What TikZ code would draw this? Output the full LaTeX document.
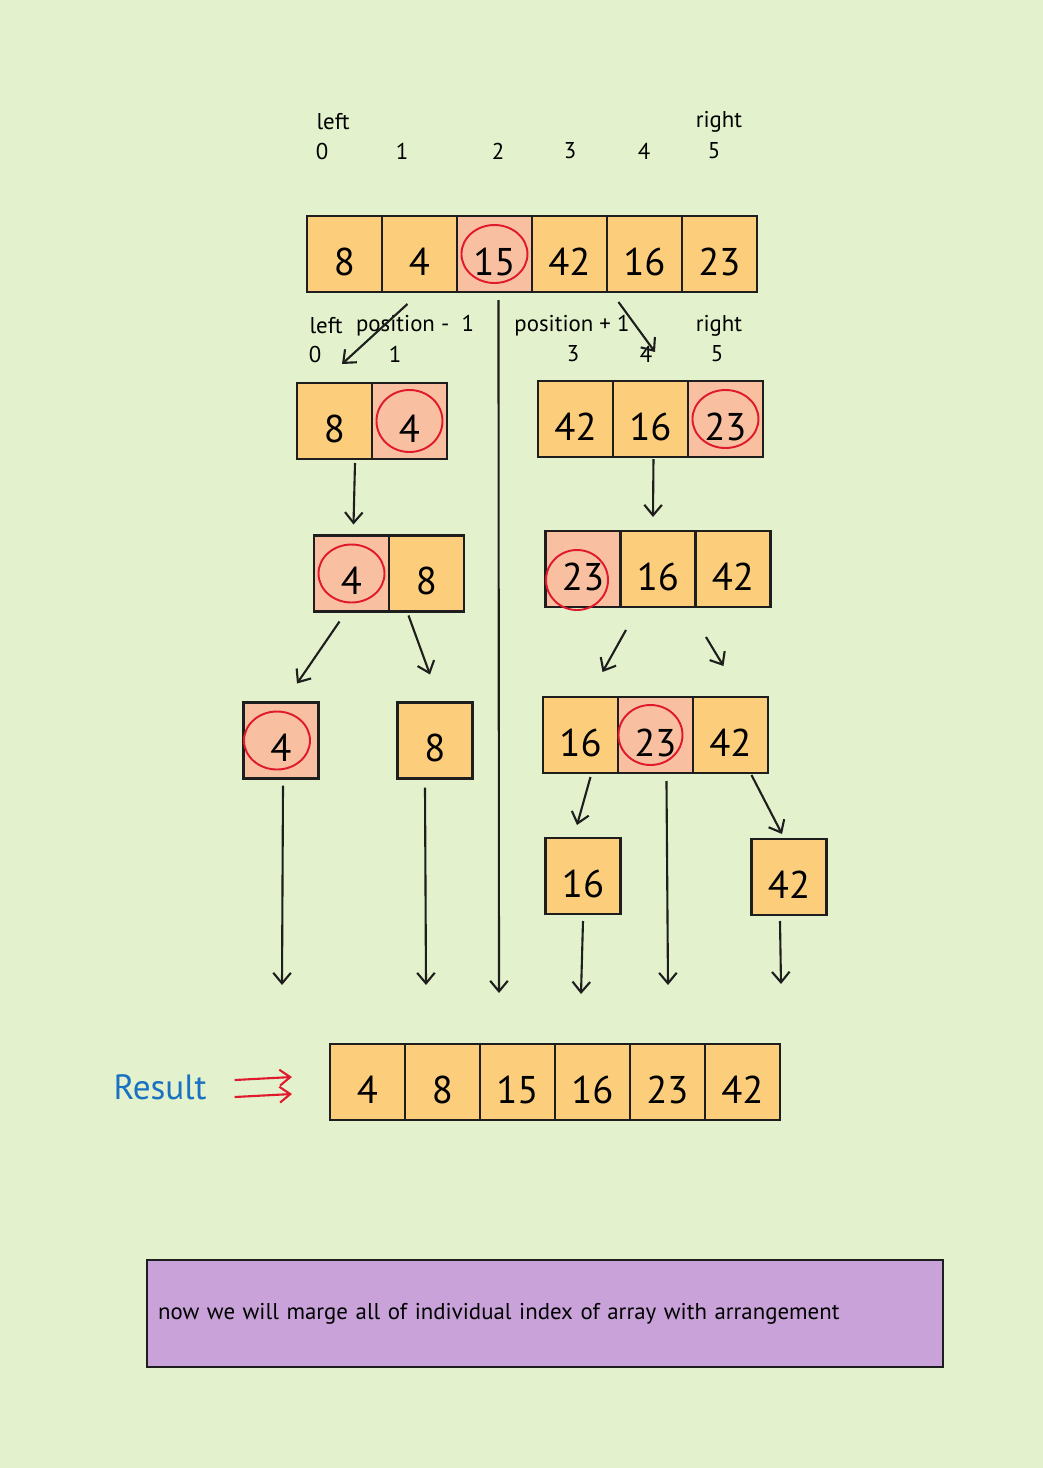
\documentclass[tikz,border=0pt]{standalone}
\usepackage{fontspec}
\setmainfont{PT Sans}
\usepackage{xcolor}
\usetikzlibrary{arrows.meta, positioning, calc}

\definecolor{bggreen}{HTML}{E3F2CC}
\definecolor{cellorange}{HTML}{FCCD7A}
\definecolor{cellpink}{HTML}{F8C0A0}
\definecolor{ringred}{HTML}{E0192D}
\definecolor{notepurple}{HTML}{C8A2D8}
\definecolor{resblue}{HTML}{1971C2}
\definecolor{ink}{HTML}{1E1E1E}

\begin{document}
\begin{tikzpicture}[
    x=0.02cm, y=-0.02cm,
    cell/.style={draw=ink, line width=1.4pt, fill=cellorange, minimum width=1.5cm, minimum height=1.52cm,
                 inner sep=0pt, outer sep=0pt, text height=0.85cm, text depth=0pt, font=\fontsize{22}{26}\selectfont},
    pivot/.style={cell, fill=cellpink},
    ring/.style={draw=ringred, line width=1.1pt},
    lbl/.style={font=\fontsize{13}{15}\selectfont, inner sep=1pt},
    arr/.style={draw=ink, line width=1.2pt, -{Straight Barb[length=6pt, width=10pt]}},
    dblarr/.style={draw=ringred, line width=1.2pt, -{Straight Barb[length=6pt, width=9pt]}},
]
    % background and page size
    \fill[bggreen] (0,0) rectangle (1043,1468);

    % first array
    \node[lbl] (lft0) at (333,122) {left};
    \node[lbl] (rgt0) at (719,122) {right};
    \node[lbl] (i0) at (322,151) {0};
    \node[lbl] (i1) at (402,151) {1};
    \node[lbl] (i2) at (498,151) {2};
    \node[lbl] (i3) at (570,151) {3};
    \node[lbl] (i4) at (644,151) {4};
    \node[lbl] (i5) at (714,151) {5};

    \node[cell] (a1) at (344.5,254) {8};
    \node[cell, right=0pt of a1] (a2) {4};
    \node[pivot, right=0pt of a2] (a3) {15};
    \node[cell, right=0pt of a3] (a4) {42};
    \node[cell, right=0pt of a4] (a5) {16};
    \node[cell, right=0pt of a5] (a6) {23};
    \draw[ring] (a3.center) ellipse (33 and 29);

    % left part
    \node[lbl] (lft1) at (326,326) {left};
    \node[lbl] (pm1) at (415,326) {position -\ \ 1};
    \node[lbl] (j0) at (315,354) {0};
    \node[lbl] (j1) at (395,354) {1};

    \node[cell] (b1) at (334.5,421) {8};
    \node[pivot, right=0pt of b1] (b2) {4};
    \draw[ring] (b2.center) ellipse (33 and 31);

    % right part
    \node[lbl] (pp1) at (572,326) {position + 1};
    \node[lbl] (rgt1) at (719,326) {right};
    \node[lbl] (j3) at (573,354) {3};
    \node[lbl] (j4) at (646,354) {4};
    \node[lbl] (j5) at (717,354) {5};

    \node[cell] (c1) at (575.5,419) {42};
    \node[cell, right=0pt of c1] (c2) {16};
    \node[pivot, right=0pt of c2] (c3) {23};
    \draw[ring] (c3.center) ellipse (33 and 29);

    % third row
    \node[pivot] (d1) at (351.5,573.5) {4};
    \node[cell, right=0pt of d1] (d2) {8};
    \draw[ring] (d1.center) ellipse (33 and 29);

    \node[pivot] (e1) at (583,569) {23};
    \node[cell, right=0pt of e1] (e2) {16};
    \node[cell, right=0pt of e2] (e3) {42};
    \draw[ring] ($(e1.center)+(-6,11)$) ellipse (31 and 30);

    % fourth row
    \node[pivot] (f1) at (281,740.5) {4};
    \node[cell] (f2) at (435,740.5) {8};
    \draw[ring] ($(f1.center)+(-4,0)$) ellipse (33 and 29);

    \node[cell] (g1) at (580.5,735) {16};
    \node[pivot, right=0pt of g1] (g2) {23};
    \node[cell, right=0pt of g2] (g3) {42};
    \draw[ring] ($(g2.center)+(-5,0)$) ellipse (32 and 30);

    % fifth row
    \node[cell] (h1) at (583,876) {16};
    \node[cell] (h2) at (789,877) {42};

    % free ends above the result
    \coordinate (m1) at (282,985);
    \coordinate (m2) at (426,985);
    \coordinate (m3) at (499,993);
    \coordinate (m4) at (581,994);
    \coordinate (m5) at (668,985);
    \coordinate (m6) at (781,984);
    \coordinate (p1) at (342,364);
    \coordinate (p2) at (655,352);

    % arrows
    \draw[arr] ($(a2.south)+(-12,12)$) -- (p1);
    \draw[arr] ($(a5.south)+(-26,10)$) -- (p2);
    \draw[arr] ($(a3.south)+(4,8)$) -- (m3);
    \draw[arr] ($(b1.south east)+(-17,4)$) -- ($(d1.north)+(2,-11)$);
    \draw[arr] ($(c2.south)+(3,2)$) -- ($(e2.north)+(-5,-14)$);
    \draw[arr] ($(d1.south)+(-12,10)$) -- ($(f1.north)+(16,-19)$);
    \draw[arr] ($(d2.south)+(-18,4)$) -- ($(f2.north)+(-5,-28)$);
    \draw[arr] ($(e2.south)+(-32,23)$) -- ($(g1.north)+(22,-25)$);
    \draw[arr] ($(e3.south)+(-27,30)$) -- ($(g3.north)+(-7,-31)$);
    \draw[arr] ($(f1.south)+(2,7)$) -- (m1);
    \draw[arr] ($(f2.south)+(-10,9)$) -- (m2);
    \draw[arr] ($(g1.south)+(10,4)$) -- ($(h1.north)+(-6,-13)$);
    \draw[arr] ($(g2.south)+(11,8)$) -- (m5);
    \draw[arr] ($(g3.south)+(21,2)$) -- ($(h2.north)+(-7,-5)$);
    \draw[arr] ($(h1.south)+(0,7)$) -- (m4);
    \draw[arr] ($(h2.south)+(-9,6)$) -- (m6);

    % result
    \node[font=\fontsize{20}{24}\selectfont, text=resblue] (res) at (160,1087) {Result};
    \node[cell] (r1) at (367.5,1082) {4};
    \node[cell, right=0pt of r1] (r2) {8};
    \node[cell, right=0pt of r2] (r3) {15};
    \node[cell, right=0pt of r3] (r4) {16};
    \node[cell, right=0pt of r4] (r5) {23};
    \node[cell, right=0pt of r5] (r6) {42};
    \draw[dblarr] ($(res.east)+(22,-7)$) -- ($(r1.west)+(-38,-5)$);
    \draw[dblarr] ($(res.east)+(22,10)$) -- ($(r1.west)+(-38,12)$);

    % note
    \node[draw=ink, line width=1.4pt, fill=notepurple, minimum width=15.92cm, minimum height=2.14cm,
          inner xsep=0.22cm, text width=15.48cm, align=left, font=\fontsize{13}{15}\selectfont]
          (note) at (545,1313.5) {now we will marge all of individual index of array with arrangement};
\end{tikzpicture}
\end{document}
